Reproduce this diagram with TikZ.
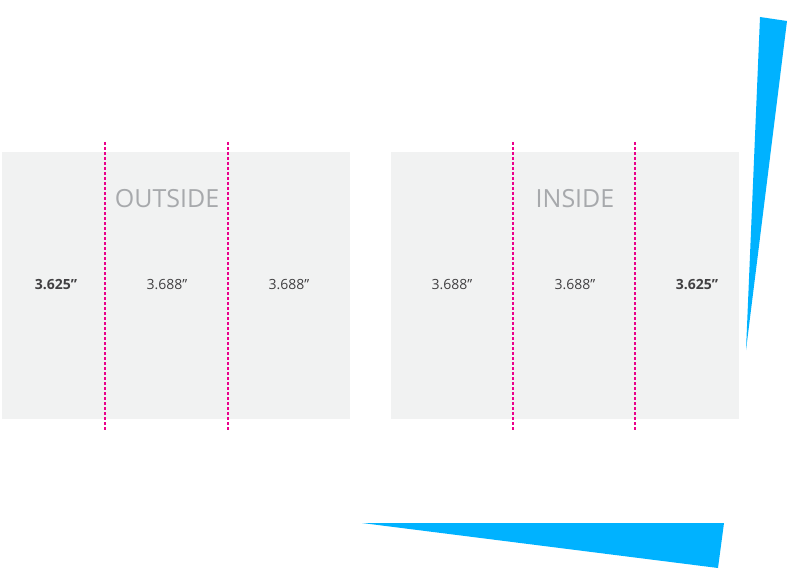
\documentclass[tikz,border=0pt]{standalone}
\usepackage{fontspec}
\setmainfont{Open Sans}
\definecolor{panelgray}{HTML}{F1F2F2}
\definecolor{foldpink}{HTML}{EC008C}
\definecolor{wedgeblue}{HTML}{00B2FF}
\definecolor{titlegray}{HTML}{A7A9AC}
\definecolor{labeldark}{HTML}{414042}
\tikzset{
  panel/.style={fill=panelgray, draw=none},
  fold/.style={draw=foldpink, line width=1.1pt, dash pattern=on 3pt off 2pt},
  wedge/.style={fill=wedgeblue, draw=none},
  title/.style={text=titlegray, font=\fontsize{25}{29}\selectfont, inner sep=0pt},
  dim/.style={text=labeldark, font=\fontsize{14}{17}\selectfont, inner sep=0pt},
  dimbold/.style={dim, font=\fontsize{14}{17}\selectfont\bfseries},
}
\begin{document}
\begin{tikzpicture}[x=1pt,y=-1pt]
\useasboundingbox (0,0) rectangle (800,572);
% panels
\path[panel] (2,152) rectangle (350,419);
\path[panel] (391,152) rectangle (739,419);
% fold lines
\coordinate (f1t) at (105,142); \coordinate (f1b) at (105,430);
\coordinate (f2t) at (228,142); \coordinate (f2b) at (228,430);
\coordinate (f3t) at (513,142); \coordinate (f3b) at (513,430);
\coordinate (f4t) at (635,142); \coordinate (f4b) at (635,430);
\draw[fold] (f1t) -- (f1b);
\draw[fold] (f2t) -- (f2b);
\draw[fold] (f3t) -- (f3b);
\draw[fold] (f4t) -- (f4b);
% titles
\node[title] (outside) at (167,199) {OUTSIDE};
\node[title] (inside) at (575,199) {INSIDE};
% dimensions
\node[dimbold] (o1) at (56,285) {3.625”};
\node[dim] (o2) at (167,285) {3.688”};
\node[dim] (o3) at (289,285) {3.688”};
\node[dim] (i1) at (452,285) {3.688”};
\node[dim] (i2) at (575,285) {3.688”};
\node[dimbold] (i3) at (697,285) {3.625”};
% blue wedges
\fill[wedge] (760,17) -- (787,21) -- (746,350) -- cycle;
\fill[wedge] (362,523) -- (724,523) -- (718,568) -- cycle;
\end{tikzpicture}
\end{document}
